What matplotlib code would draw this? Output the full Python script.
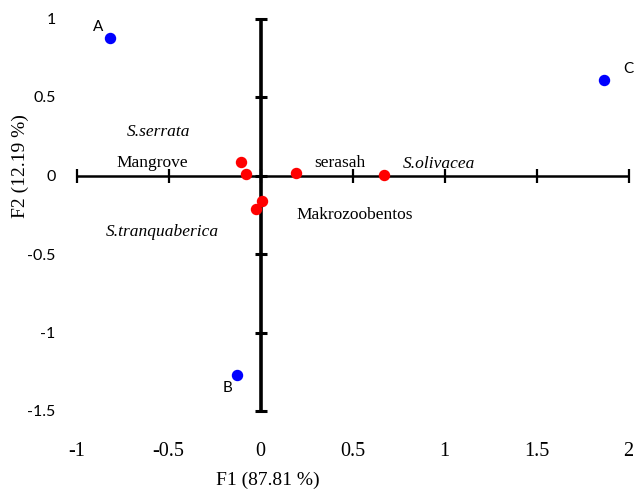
import matplotlib.pyplot as plt

# axis ticks
f1_ticks = [-1, -0.5, 0, 0.5, 1, 1.5, 2]
f2_ticks = [-1.5, -1, -0.5, 0, 0.5, 1]

# stations (blue)
stations = ['A', 'B', 'C']
station_f1 = [-0.82, -0.13, 1.865]
station_f2 = [0.876, -1.271, 0.606]

# variables (red)
var_f1 = [-0.106, -0.080, 0.191, 0.671, 0.008, -0.023]
var_f2 = [0.088, 0.010, 0.016, 0.001, -0.161, -0.213]

var_names = ['S.serrata', 'Mangrove', 'serasah', 'S.olivacea', 'Makrozoobentos', 'S.tranquaberica']

serif = 'Liberation Serif'
sans = 'Lato'

fig = plt.figure(figsize=(6.36, 4.92), dpi=100)
ax = fig.add_axes([76.5 / 636, 81 / 492, 552 / 636, 392.5 / 492])
ax.set_xlim(-1, 2)
ax.set_ylim(-1.5, 1)
for s in ax.spines.values():
    s.set_visible(False)

ax.set_xticks(f1_ticks)
ax.set_xticklabels([f'{v:g}' for v in f1_ticks], fontfamily=serif, fontsize=14.5)
ax.set_yticks(f2_ticks)
ax.set_yticklabels([f'{v:g}' for v in f2_ticks], fontfamily=sans, fontsize=11.5)
ax.tick_params(axis='x', length=0, pad=22)
ax.tick_params(axis='y', length=0, pad=15)

# axes through origin
ax.plot([f1_ticks[0], f1_ticks[-1]], [0, 0], color='black', lw=1.8, zorder=1)
ax.plot([0, 0], [f2_ticks[0], f2_ticks[-1]], color='black', lw=2.6, zorder=1)
ax.plot(f1_ticks, [0] * len(f1_ticks), ls='none', marker='|', ms=9.5, mew=1.6,
        color='black', zorder=1, clip_on=False)
ax.plot([0] * len(f2_ticks), f2_ticks, ls='none', marker='_', ms=9, mew=2.2,
        color='black', zorder=1, clip_on=False)

ax.scatter(station_f1, station_f2, s=52, color='#0000FF', zorder=3, clip_on=False)
ax.scatter(var_f1, var_f2, s=52, color='#FF0000', zorder=3, clip_on=False)

# station labels
offsets = {'A': (-8, 8), 'B': (-6.5, -9.5), 'C': (18, 8)}
for name, x, y in zip(stations, station_f1, station_f2):
    ax.annotate(name, (x, y), xytext=offsets[name], textcoords='offset points',
                ha='center', va='center', fontfamily=sans, fontsize=11)

# variable labels
text_pos = {
    'S.serrata': (-0.552, 0.277),
    'Mangrove': (-0.59, 0.080),
    'serasah': (0.432, 0.080),
    'S.olivacea': (0.970, 0.073),
    'Makrozoobentos': (0.514, -0.252),
    'S.tranquaberica': (-0.535, -0.360),
}
for name in var_names:
    x, y = text_pos[name]
    style = 'italic' if name.startswith('S.') else 'normal'
    ax.text(x, y, name, ha='center', va='center', fontfamily=serif,
            fontsize=12.5, fontstyle=style)

fig.text(268 / 636, 1 - 480 / 492, 'F1 (87.81 %)', ha='center', va='center',
         fontfamily=serif, fontsize=14)
fig.text(20 / 636, 1 - 166 / 492, 'F2 (12.19 %)', ha='center', va='center',
         rotation=90, fontfamily=serif, fontsize=14)

fig.savefig('out.png', dpi=100)
